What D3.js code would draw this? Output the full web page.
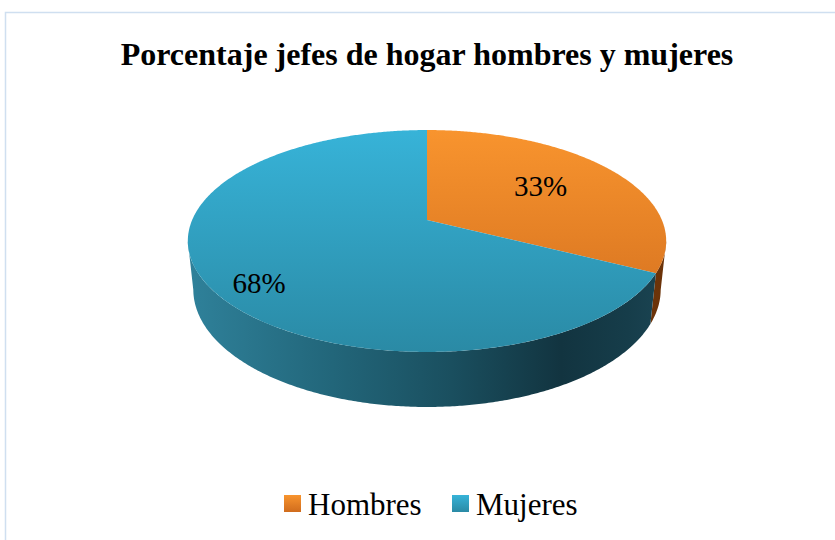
<!DOCTYPE html>
<html>
<head>
<meta charset="utf-8">
<script src="https://cdn.jsdelivr.net/npm/d3@7"></script>
<style>
  body { margin: 0; background: #fff; }
  svg { display: block; }
</style>
</head>
<body>
<svg id="chart" width="835" height="540"></svg>
<script>
// data
const categories = ["Hombres", "Mujeres"];
const values = [32.5, 67.5];
const title = "Porcentaje jefes de hogar hombres y mujeres";

const width = 835, height = 540;
const svg = d3.select("#chart");

// frame lines (top + left)
svg.append("path")
  .attr("d", "M5.5,540 V12.5 H835")
  .attr("fill", "none")
  .attr("stroke", "#cfdff0")
  .attr("stroke-width", 1.5);

svg.append("text")
  .attr("x", 427).attr("y", 65)
  .attr("text-anchor", "middle")
  .style("font-family", "'Liberation Serif', 'Times New Roman', serif")
  .style("font-weight", "bold")
  .style("font-size", "32px")
  .text(title);

// perspective camera for the tilted pie
const cam = { cx: 427, cy: 220, f: 1105, D: 4.705, s: 0.4555, c: 0.890, h: 0.2337 };
// theta clockwise from the back (12 o'clock), r radius (1 = rim), y height (0 top, -h bottom)
function project(theta, r, y) {
  const X = r * Math.sin(theta);
  const z = r * Math.cos(theta);
  const Y = z * cam.s + y * cam.c;
  const Z = z * cam.c - y * cam.s + cam.D;
  return [cam.cx + cam.f * X / Z, cam.cy - cam.f * Y / Z];
}

const colors = d3.scaleOrdinal().domain(categories).range(["orange", "blue"]);
const pie = d3.pie().sort(null).value(d => d)(values);

const defs = svg.append("defs");
const topGrad = {
  orange: ["#f8942e", "#d06c1d"],
  blue: ["#37b3d8", "#2a8aa5"]
};
Object.entries(topGrad).forEach(([k, c]) => {
  const g = defs.append("linearGradient").attr("id", "top-" + k)
    .attr("gradientUnits", "userSpaceOnUse")
    .attr("x1", 0).attr("x2", 0).attr("y1", 130).attr("y2", 352);
  g.append("stop").attr("offset", 0).attr("stop-color", c[0]);
  g.append("stop").attr("offset", 1).attr("stop-color", c[1]);
});
const sideGrad = {
  orange: [[0, "#9a4c12"], [1, "#6b3309"]],
  blue: [[0, "#2f819a"], [0.3, "#22667a"], [0.55, "#1a4f5f"], [0.78, "#123440"], [0.92, "#163d4a"], [1, "#1b4553"]]
};
Object.entries(sideGrad).forEach(([k, stops]) => {
  const g = defs.append("linearGradient").attr("id", "side-" + k)
    .attr("gradientUnits", "userSpaceOnUse")
    .attr("x1", 189).attr("x2", 666).attr("y1", 0).attr("y2", 0);
  stops.forEach(s => g.append("stop").attr("offset", s[0]).attr("stop-color", s[1]));
});

const line = d3.line();
const step = Math.PI / 360;
function arcPts(a0, a1, r, y) {
  const n = Math.max(2, Math.ceil((a1 - a0) / step));
  return d3.range(n + 1).map(i => project(a0 + (a1 - a0) * i / n, r, y));
}

// visible front wall range (silhouette)
const sil = Math.acos(-cam.c / cam.D);
const visLo = sil, visHi = 2 * Math.PI - sil;

const g = svg.append("g");
// side walls
pie.forEach((d, i) => {
  const a0 = Math.max(d.startAngle, visLo), a1 = Math.min(d.endAngle, visHi);
  if (a1 <= a0) return;
  const pts = arcPts(a0, a1, 1, 0).concat(arcPts(a0, a1, 1, -cam.h).reverse());
  g.append("path")
    .attr("d", line(pts) + "Z")
    .attr("fill", "url(#side-" + colors(categories[i]) + ")");
});
// top faces
pie.forEach((d, i) => {
  const pts = [project(0, 0, 0)].concat(arcPts(d.startAngle, d.endAngle, 1, 0));
  g.append("path")
    .attr("d", line(pts) + "Z")
    .attr("fill", "url(#top-" + colors(categories[i]) + ")");
});

// data labels
const labelR = [0.6, 0.78], labelDrop = [-0.05, 0.3];
pie.forEach((d, i) => {
  const mid = (d.startAngle + d.endAngle) / 2;
  const p = project(mid, labelR[i], -cam.h * labelDrop[i]);
  g.append("text")
    .attr("x", p[0]).attr("y", p[1])
    .attr("dy", "0.35em")
    .attr("text-anchor", "middle")
    .style("font-family", "'Liberation Serif', 'Times New Roman', serif")
    .style("font-size", "29px")
    .text(Math.round(d.data) + "%");
});

// legend
const legend = svg.append("g");
const legendX = [284, 452];
categories.forEach((c, i) => {
  const k = colors(c);
  legend.append("rect")
    .attr("x", legendX[i]).attr("y", 495).attr("width", 17).attr("height", 17)
    .attr("fill", "url(#leg-" + k + ")");
  const lg = defs.append("linearGradient").attr("id", "leg-" + k)
    .attr("x1", 0).attr("x2", 0).attr("y1", 0).attr("y2", 1);
  lg.append("stop").attr("offset", 0).attr("stop-color", topGrad[k][0]);
  lg.append("stop").attr("offset", 1).attr("stop-color", topGrad[k][1]);
  legend.append("text")
    .attr("x", legendX[i] + 24).attr("y", 515)
    .style("font-family", "'Liberation Serif', 'Times New Roman', serif")
    .style("font-size", "31px")
    .text(c);
});
</script>
</body>
</html>
